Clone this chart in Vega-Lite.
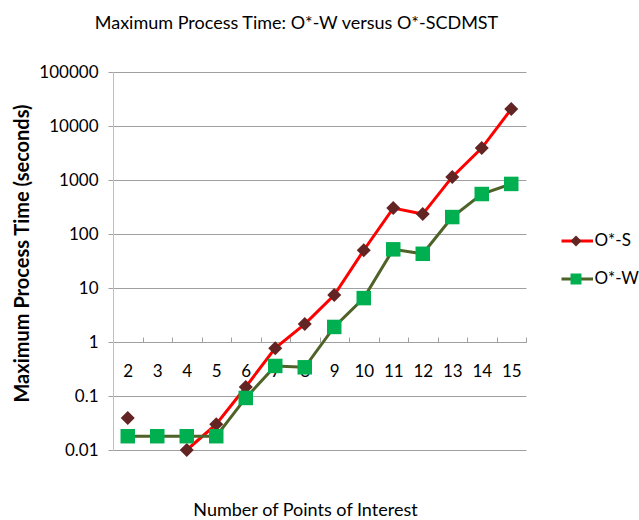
{
  "$schema": "https://vega.github.io/schema/vega-lite/v6.json",
  "width": 413,
  "height": 378,
  "autosize": {"type": "none"},
  "padding": {"left": 113, "top": 72, "right": 113, "bottom": 70},
  "background": "white",
  "title": {
    "text": "Maximum Process Time: O*-W versus O*-SCDMST",
    "fontSize": 18,
    "fontWeight": "normal",
    "font": "Lato",
    "color": "black",
    "anchor": "middle",
    "frame": "group",
    "dx": -23,
    "offset": 30
  },
  "config": {
    "font": "Lato",
    "view": {"stroke": null},
    "axis": {"labelColor": "black", "titleColor": "black", "labelFont": "Lato", "titleFont": "Lato"}
  },
  "data": {
    "values": [
      {"n": 2, "series": "O*-S", "v": 0.039},
      {"n": 3, "series": "O*-S", "v": null},
      {"n": 4, "series": "O*-S", "v": 0.01},
      {"n": 5, "series": "O*-S", "v": 0.03},
      {"n": 6, "series": "O*-S", "v": 0.147},
      {"n": 7, "series": "O*-S", "v": 0.77},
      {"n": 8, "series": "O*-S", "v": 2.15},
      {"n": 9, "series": "O*-S", "v": 7.4},
      {"n": 10, "series": "O*-S", "v": 50},
      {"n": 11, "series": "O*-S", "v": 302},
      {"n": 12, "series": "O*-S", "v": 234},
      {"n": 13, "series": "O*-S", "v": 1140},
      {"n": 14, "series": "O*-S", "v": 3900},
      {"n": 15, "series": "O*-S", "v": 20600},
      {"n": 2, "series": "O*-W", "v": 0.018},
      {"n": 3, "series": "O*-W", "v": 0.018},
      {"n": 4, "series": "O*-W", "v": 0.018},
      {"n": 5, "series": "O*-W", "v": 0.018},
      {"n": 6, "series": "O*-W", "v": 0.092},
      {"n": 7, "series": "O*-W", "v": 0.36},
      {"n": 8, "series": "O*-W", "v": 0.34},
      {"n": 9, "series": "O*-W", "v": 1.9},
      {"n": 10, "series": "O*-W", "v": 6.5},
      {"n": 11, "series": "O*-W", "v": 52},
      {"n": 12, "series": "O*-W", "v": 43},
      {"n": 13, "series": "O*-W", "v": 206},
      {"n": 14, "series": "O*-W", "v": 550},
      {"n": 15, "series": "O*-W", "v": 846}
    ]
  },
  "encoding": {
    "x": {
      "field": "n",
      "type": "ordinal",
      "bandPosition": 0.5,
      "scale": {"type": "band", "paddingInner": 0, "paddingOuter": 0},
      "axis": {
        "title": "Number of Points of Interest",
        "offset": -108,
        "labelAngle": 0,
        "tickBand": "extent",
        "tickSize": -5,
        "tickColor": "#A0A0A0",
        "domainColor": "#A0A0A0",
        "labelFontSize": 17,
        "labelPadding": 26,
        "titleFontSize": 18,
        "titleFontWeight": "normal",
        "titleX": 192,
        "titleY": 173,
        "titleBaseline": "alphabetic",
        "titleAlign": "center",
        "grid": false
      }
    },
    "y": {
      "field": "v",
      "type": "quantitative",
      "scale": {"type": "log", "domain": [0.01, 100000]},
      "axis": {
        "title": "Maximum Process Time (seconds)",
        "values": [0.01, 0.1, 1, 10, 100, 1000, 10000, 100000],
        "format": "~g",
        "grid": true,
        "gridColor": "#A0A0A0",
        "domainColor": "#BFBFBF",
        "tickColor": "#A0A0A0",
        "tickSize": 5,
        "labelPadding": 10,
        "labelFontSize": 17,
        "titleFontSize": 20,
        "titleFontWeight": "bold",
        "titleX": -91,
        "titleY": 181,
        "titleAngle": -90,
        "titleBaseline": "middle",
        "titleAlign": "center"
      }
    }
  },
  "layer": [
    {
      "transform": [{"filter": "datum.series === 'O*-S'"}],
      "mark": {"type": "line", "strokeWidth": 3},
      "encoding": {
        "color": {
          "field": "series",
          "type": "nominal",
          "scale": {"domain": ["O*-S", "O*-W"], "range": ["#FF0000", "#4F6228"]},
          "legend": {
            "orient": "none", "legendX": 448.5, "legendY": 159, "title": null,
            "symbolType": "M-2,0H2", "symbolSize": 400, "symbolStrokeWidth": 3,
            "labelFontSize": 17, "labelFont": "Lato", "labelColor": "black",
            "labelOffset": 10, "clipHeight": 20, "rowPadding": 18, "padding": 0
          }
        }
      }
    },
    {
      "transform": [{"filter": "datum.series === 'O*-S'"}],
      "mark": {"type": "point", "filled": true, "size": 196, "strokeWidth": 0, "opacity": 1},
      "encoding": {
        "fill": {
          "field": "series",
          "type": "nominal",
          "scale": {"range": ["#632523", "#00B050"]},
          "legend": {
            "orient": "none", "legendX": 454.5, "legendY": 159, "title": null,
            "symbolSize": 120, "symbolStrokeWidth": 0, "symbolOpacity": 1,
            "labelFontSize": 17, "labelExpr": "''",
            "clipHeight": 20, "rowPadding": 18, "padding": 0
          }
        },
        "shape": {
          "field": "series",
          "type": "nominal",
          "scale": {"range": ["diamond", "square"]},
          "legend": {
            "orient": "none", "legendX": 454.5, "legendY": 159, "title": null,
            "symbolSize": 120, "symbolStrokeWidth": 0, "symbolOpacity": 1,
            "labelFontSize": 17, "labelExpr": "''",
            "clipHeight": 20, "rowPadding": 18, "padding": 0
          }
        }
      }
    },
    {
      "transform": [{"filter": "datum.series === 'O*-W'"}],
      "mark": {"type": "line", "strokeWidth": 3},
      "encoding": {
        "color": {"field": "series", "type": "nominal"}
      }
    },
    {
      "transform": [{"filter": "datum.series === 'O*-W'"}],
      "mark": {"type": "point", "filled": true, "size": 210, "strokeWidth": 0, "opacity": 1},
      "encoding": {
        "fill": {"field": "series", "type": "nominal"},
        "shape": {"field": "series", "type": "nominal"}
      }
    }
  ]
}
